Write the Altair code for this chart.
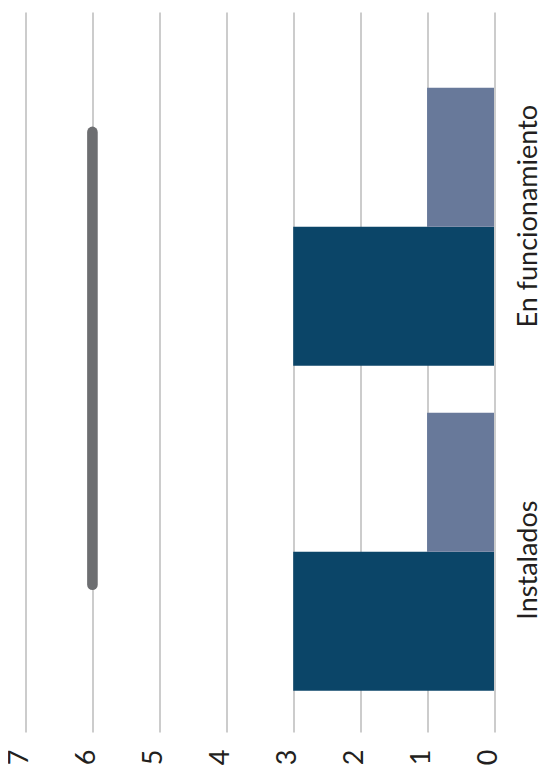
import altair as alt
import pandas as pd

# ---- data ----
categories = ["Instalados", "En funcionamiento"]
series_names = ["Serie 1", "Serie 2"]
serie1_values = [3, 3]   # dark bars
serie2_values = [1, 1]   # light bars
line_value = [6]
line_from = ["Instalados"]
line_to = ["En funcionamiento"]
tick_values = [0, 1, 2, 3, 4, 5, 6, 7]

cat_order = ["En funcionamiento", "Instalados"]  # top to bottom

bars_df = pd.DataFrame({
    "categoria": categories * 2,
    "serie": [series_names[0]] * len(categories) + [series_names[1]] * len(categories),
    "valor": serie1_values + serie2_values,
})
line_df = pd.DataFrame({"valor": line_value, "desde": line_from, "hasta": line_to})
labels_df = pd.DataFrame({"categoria": categories})

FONT = "Lato"
TXT = "#231f20"

x_scale = alt.Scale(domain=[0, 7], reverse=True, nice=False, zero=True)
y_scale = alt.Scale(domain=cat_order, paddingInner=0.1446, paddingOuter=0.18, align=0.647)

x_axis = alt.Axis(
    values=tick_values, format="d", grid=True, gridColor="#999999", gridWidth=1,
    domain=False, ticks=False, tickSize=0,
    labelAngle=-90, labelAlign="right", labelBaseline="middle", labelOffset=-6,
    labelFont=FONT, labelFontSize=27, labelColor=TXT, labelPadding=17,
    title=None,
)

bars = alt.Chart(bars_df).mark_bar().encode(
    x=alt.X("valor:Q", scale=x_scale, axis=x_axis),
    y=alt.Y("categoria:N", scale=y_scale, axis=None),
    yOffset=alt.YOffset("serie:N", scale=alt.Scale(domain=[series_names[1], series_names[0]],
                                                   paddingInner=0, paddingOuter=0)),
    color=alt.Color("serie:N", scale=alt.Scale(domain=series_names, range=["#0b4568", "#68799a"]),
                    legend=None),
)

rule = alt.Chart(line_df).mark_rule(strokeWidth=10.6, strokeCap="round", color="#6d6e71").encode(
    x=alt.X("valor:Q", scale=x_scale),
    y=alt.Y("desde:N", scale=y_scale, axis=None, bandPosition=0.619),
    y2=alt.Y2("hasta", bandPosition=0.159),
)

labels = alt.Chart(labels_df).mark_point(opacity=0).encode(
    y=alt.Y("categoria:N",
            scale=alt.Scale(type="band", domain=cat_order, paddingInner=0, paddingOuter=0.047, align=1),
            axis=alt.Axis(orient="right", domain=False, ticks=False, tickSize=0, grid=False,
                          labelAngle=-90, labelAlign="center", labelBaseline="alphabetic",
                          labelFont=FONT, labelFontSize=27, labelColor=TXT,
                          labelPadding=42, labelLimit=0, title=None)),
)

chart = alt.layer(bars, rule, labels).resolve_scale(y="independent").properties(
    width=468.5, height=720,
    autosize=alt.AutoSizeParams(type="none"),
    padding={"left": 17.5, "top": 4, "right": 44, "bottom": 42},
).configure_view(stroke=None)

chart.save("out.html", embed_options={"renderer": "svg", "actions": False})
